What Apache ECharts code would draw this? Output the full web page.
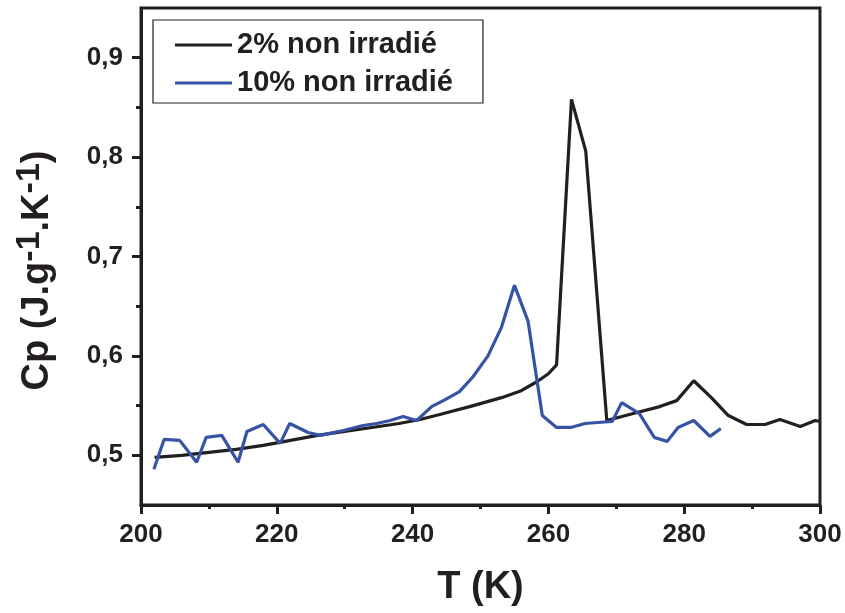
<!DOCTYPE html>
<html><head><meta charset="utf-8">
<script src="https://cdn.jsdelivr.net/npm/echarts@6/dist/echarts.min.js"></script>
<style>html,body{margin:0;padding:0;background:#fff}#c{width:845px;height:613px}</style>
</head><body><div id="c"></div>
<script>
const blackT = [202, 206, 210, 214, 218, 222, 226, 230, 234, 238, 241.1, 244, 248.4, 253.1, 256, 258.3, 260, 261.2, 263.4, 265.5, 268.6, 272.5, 276.4, 278.9, 281.4, 284, 286.5, 289.2, 291.9, 294.1, 297.1, 299.3, 300];
const blackCp = [0.498, 0.500, 0.503, 0.506, 0.510, 0.515, 0.520, 0.524, 0.528, 0.532, 0.536, 0.541, 0.549, 0.558, 0.565, 0.574, 0.582, 0.591, 0.858, 0.806, 0.535, 0.542, 0.549, 0.555, 0.575, 0.558, 0.540, 0.531, 0.531, 0.536, 0.529, 0.535, 0.534];
const blueT = [201.9, 203.4, 205.7, 208.2, 209.6, 211.9, 214.3, 215.6, 218.0, 220.5, 221.9, 224.6, 226.4, 229.8, 232.7, 234.7, 236.7, 238.6, 240.6, 242.8, 244.8, 246.9, 248.9, 251.1, 253.1, 255.0, 257.0, 259.1, 261.2, 263.3, 265.4, 267.3, 269.4, 270.8, 273.4, 275.6, 277.5, 279.1, 281.4, 283.8, 285.4];
const blueCp = [0.486, 0.516, 0.515, 0.493, 0.518, 0.520, 0.493, 0.524, 0.531, 0.512, 0.532, 0.523, 0.520, 0.525, 0.530, 0.532, 0.535, 0.539, 0.535, 0.549, 0.556, 0.564, 0.579, 0.600, 0.629, 0.671, 0.635, 0.540, 0.528, 0.528, 0.532, 0.533, 0.534, 0.553, 0.542, 0.518, 0.514, 0.528, 0.535, 0.519, 0.527];
const seriesNames = ['2% non irradié', '10% non irradié'];
const yMajor = [0.5, 0.6, 0.7, 0.8, 0.9];
const yMinor = [0.55, 0.65, 0.75, 0.85];

const FONT = '"Liberation Sans", Arial, sans-serif';
const INK = '#231f20';
const BLUE = '#3653a5';
const zip = (a, b) => a.map((v, i) => [v, b[i]]);

const chart = echarts.init(document.getElementById('c'), null, {renderer: 'canvas'});
chart.setOption({
  animation: false,
  backgroundColor: '#fff',
  grid: {left: 141, right: 25, top: 8, bottom: 108, show: true, borderColor: INK, borderWidth: 3, backgroundColor: 'transparent'},
  legend: {
    left: 153, top: 20, orient: 'vertical',
    borderColor: INK, borderWidth: 1.2,
    padding: [10, 30, 5, 22],
    itemWidth: 57, itemHeight: 3, itemGap: 8,
    icon: 'rect',
    textStyle: {fontFamily: FONT, fontWeight: 'bold', fontSize: 29, color: INK, lineHeight: 30},
    data: seriesNames
  },
  xAxis: {
    type: 'value', min: 200, max: 300, interval: 20,
    name: 'T (K)', nameLocation: 'middle', nameGap: 64,
    nameTextStyle: {fontFamily: FONT, fontWeight: 'bold', fontSize: 38, color: INK},
    axisLine: {show: true, lineStyle: {color: INK, width: 3}},
    axisTick: {show: true, inside: false, length: 9, lineStyle: {color: INK, width: 3}},
    minorTick: {show: true, splitNumber: 2, length: 4, lineStyle: {color: INK, width: 3}},
    axisLabel: {margin: 17, fontFamily: FONT, fontWeight: 'bold', fontSize: 26, color: INK},
    splitLine: {show: false}
  },
  yAxis: [{
    type: 'value', min: 0.45, max: 0.95,
    name: '{a|Cp (J.g}{s|-1}{a|.K}{s|-1}{a|)}', nameLocation: 'middle', nameGap: 80, nameRotate: 90,
    nameTextStyle: {
      color: INK,
      padding: [0, 28, 0, 0],
      rich: {
        a: {fontFamily: FONT, fontWeight: 'bold', fontSize: 38, color: INK, lineHeight: 46},
        s: {fontFamily: FONT, fontWeight: 'bold', fontSize: 34, color: INK, lineHeight: 46, padding: [0, 0, 16, 0]}
      }
    },
    axisLine: {show: true, lineStyle: {color: INK, width: 3}},
    axisTick: {show: true, inside: false, length: 9, customValues: yMajor, lineStyle: {color: INK, width: 3}},
    axisLabel: {margin: 18, customValues: yMajor, fontFamily: FONT, fontWeight: 'bold', fontSize: 26, color: INK,
      formatter: v => v.toFixed(1).replace('.', ',')},
    splitLine: {show: false}
  }, {
    type: 'value', min: 0.45, max: 0.95, position: 'left',
    axisLine: {show: false},
    axisTick: {show: true, inside: false, length: 5, customValues: yMinor, lineStyle: {color: INK, width: 3}},
    axisLabel: {show: false},
    splitLine: {show: false}
  }],
  series: [{
    name: seriesNames[0], type: 'line', data: zip(blackT, blackCp), yAxisIndex: 0,
    showSymbol: false, symbol: 'none', smooth: false,
    lineStyle: {color: INK, width: 3.2}, itemStyle: {color: INK}
  }, {
    name: seriesNames[1], type: 'line', data: zip(blueT, blueCp), yAxisIndex: 0,
    showSymbol: false, symbol: 'none', smooth: false,
    lineStyle: {color: BLUE, width: 3.2}, itemStyle: {color: BLUE}
  }]
});
</script></body></html>
